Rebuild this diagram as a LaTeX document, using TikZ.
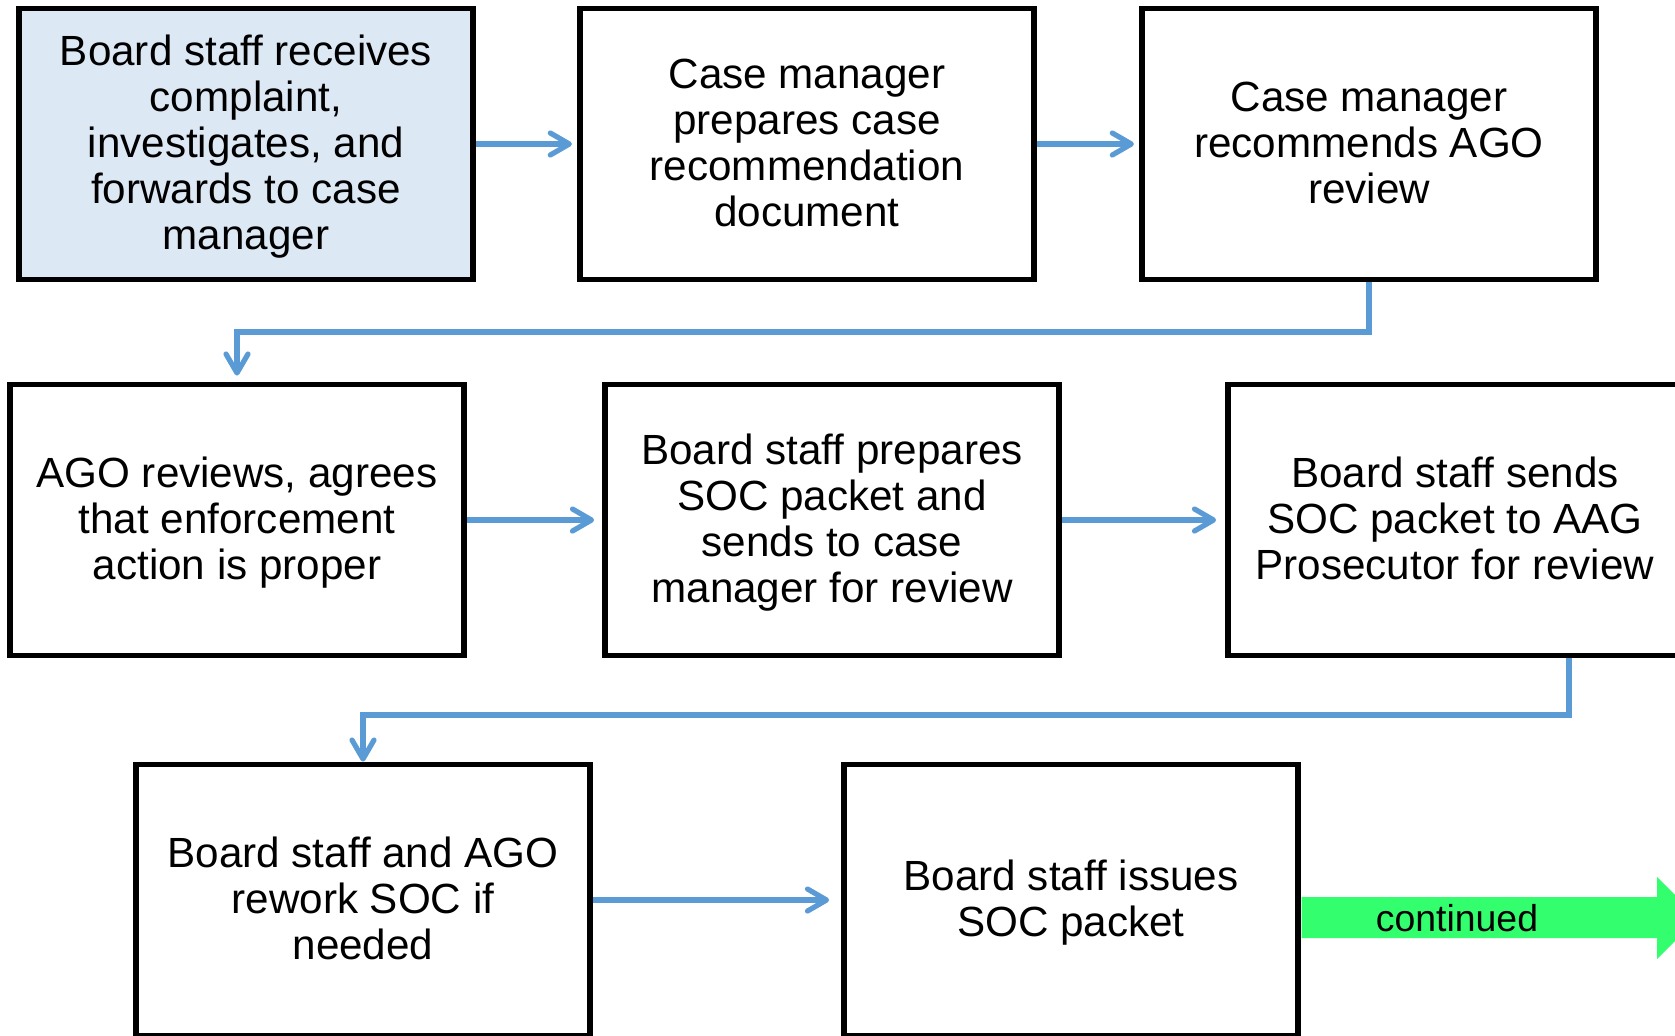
\documentclass[tikz,border=0pt]{standalone}
\usepackage{fontspec}
\setmainfont{Liberation Sans}
\usetikzlibrary{arrows.meta}
\definecolor{boxblue}{RGB}{221,232,245}
\definecolor{linkblue}{RGB}{91,155,213}
\definecolor{contgreen}{RGB}{51,255,110}
\newcommand{\stepboxtext}[1]{\raisebox{-7.5pt}[0pt][0pt]{\begin{tabular}{@{}c@{}}#1\end{tabular}}}
\begin{document}
\begin{tikzpicture}[x=0.5pt,y=-0.5pt,
  stepbox/.style={draw=black,line width=2.9pt,minimum width=227pt,minimum height=135.5pt,
    inner sep=0pt,font=\fontsize{21.1}{23}\selectfont},
  link/.style={draw=linkblue,line width=2.6pt,-{Straight Barb[length=9.5pt,width=11pt,round]}},
  contlabel/.style={font=\fontsize{18.7}{20}\selectfont,inner sep=0pt}]
\clip (0,0) rectangle (1675,1035);
\fill[white] (0,0) rectangle (1675,1035);

\node[stepbox,fill=boxblue] (b1) at (246,144) {\stepboxtext{Board staff receives\\complaint,\\investigates, and\\forwards to case\\manager}};
\node[stepbox] (b2) at (807,144) {\stepboxtext{Case manager\\prepares case\\recommendation\\document}};
\node[stepbox] (b3) at (1369,144) {\stepboxtext{Case manager\\recommends AGO\\review}};

\node[stepbox] (b4) at (237,520) {\stepboxtext{AGO reviews, agrees\\that enforcement\\action is proper}};
\node[stepbox] (b5) at (832,520) {\stepboxtext{Board staff prepares\\SOC packet and\\sends to case\\manager for review}};
\node[stepbox] (b6) at (1455,520) {\stepboxtext{Board staff sends\\SOC packet to AAG\\Prosecutor for review}};

\node[stepbox] (b7) at (363,900) {\stepboxtext{Board staff and AGO\\rework SOC if\\needed}};
\node[stepbox] (b8) at (1071,900) {\stepboxtext{Board staff issues\\SOC packet}};

\draw[link,shorten >=2.6pt] (b1) -- (b2);
\draw[link,shorten >=2.6pt] (b2) -- (b3);
\coordinate (k1) at (1369,332);
\draw[link,shorten >=3pt] (b3.south) -- (k1) -- (k1 -| b4.north) -- (b4.north);

\draw[link,shorten >=4pt] (b4) -- (b5);
\draw[link,shorten >=4.5pt] (b5) -- (b6);
\coordinate (k2) at (1569,715);
\draw[link] (b6.south -| k2) -- (k2) -- (k2 -| b7.north) -- (b7.north);

\draw[link,shorten >=6pt] (b7) -- (b8);

\fill[contgreen] (1301.5,897) -- (1657,897) -- (1657,877) -- (1698,918) -- (1657,959) -- (1657,938) -- (1301.5,938) -- cycle;
\node[contlabel] (cont) at (1457,918) {continued};
\end{tikzpicture}
\end{document}
